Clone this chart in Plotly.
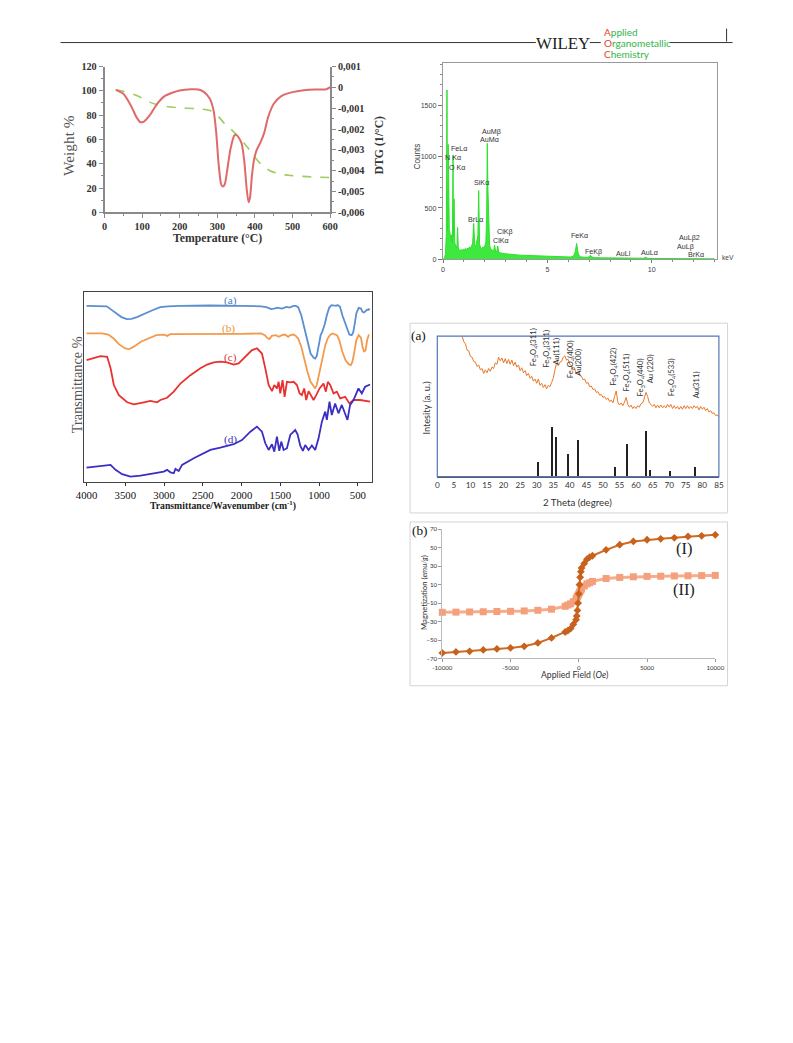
import plotly.graph_objects as go

W, H = 793, 1043
# the page photo is taken with a small border (about 9.6 px left/right, 5 px top/bottom) and then
# shrunk back to 793x1043; these helpers place items so that they land on the intended pixels
SX, OX = 0.9775, 9.35
SY, OY = 0.9907, 4.4
def px(x): return ((x - OX) / SX) / W
def py(y): return 1 - ((y - OY) / SY) / H
def fs(s): return round(s / SX, 2)

SERIF = "Liberation Serif"
SANS = "Liberation Sans"
CAL = "Lato"

# ---------------- TGA / DTG ----------------
tga_temp = [30, 50, 80, 100, 120, 150, 200, 250, 280, 300, 320, 340, 360, 380, 400, 420, 440, 460, 480, 500, 550, 600]
tga_weight = [100.8, 99.7, 96.7, 94.0, 90.7, 87.9, 86.0, 85.2, 83.8, 79.7, 72.8, 67.3, 61.0, 53.6, 45.3, 38.5, 34.3, 32.1, 30.8, 30.2, 29.1, 28.6]
dtg_temp = [30, 50, 70, 85, 95, 105, 120, 140, 160, 180, 200, 230, 250, 265, 280, 290, 297, 303, 310, 315,
            320, 328, 335, 345, 350, 358, 365, 372, 378, 383, 387, 392, 398, 405, 415, 425, 435, 450, 470, 500,
            530, 560, 590, 600]
dtg_value = [-0.00012, -0.00031, -0.00087, -0.00143, -0.00167, -0.00164, -0.00135, -0.00079, -0.00042, -0.00026,
             -0.00015, -0.00009, -0.00010, -0.00023, -0.00055, -0.00111, -0.00216, -0.00360, -0.00464, -0.00476,
             -0.00464, -0.00375, -0.00296, -0.00231, -0.00228, -0.00244, -0.00272, -0.00360, -0.00488, -0.00552,
             -0.00528, -0.00424, -0.00343, -0.00299, -0.00263, -0.00216, -0.00143, -0.00079, -0.00042, -0.00023,
             -0.00014, -0.00010, -0.00009, 0.00001]
dtg_ticks = [0.001, 0, -0.001, -0.002, -0.003, -0.004, -0.005, -0.006]
dtg_ticktext = ["0,001", "0", "-0,001", "-0,002", "-0,003", "-0,004", "-0,005", "-0,006"]

# ---------------- EDX ----------------
edx_kev = [0.00, 0.08, 0.12, 0.16, 0.19, 0.21, 0.23, 0.25, 0.27, 0.30, 0.33, 0.36, 0.39, 0.42, 0.45, 0.48, 0.50, 0.53,
           0.56, 0.60, 0.64, 0.67, 0.70, 0.73, 0.77, 0.82, 0.87, 0.92, 0.97, 1.02, 1.07, 1.12, 1.17, 1.22, 1.27, 1.32,
           1.37, 1.42, 1.47, 1.52, 1.57, 1.62, 1.67, 1.71, 1.75, 1.80, 1.85, 1.90, 1.95, 2.00, 2.05, 2.09, 2.12, 2.15,
           2.19, 2.23, 2.28, 2.33, 2.38, 2.43, 2.47, 2.52, 2.57, 2.62, 2.67, 2.75, 2.85, 2.95, 3.1, 3.3, 3.5, 3.7, 3.9,
           4.1, 4.3, 4.5, 4.7, 4.9, 5.1, 5.3, 5.5, 5.7, 5.9, 6.1, 6.25, 6.33, 6.40, 6.47, 6.55, 6.7, 6.9, 7.0, 7.06,
           7.12, 7.3, 7.6, 7.9, 8.2, 8.4, 8.49, 8.58, 8.8, 9.1, 9.4, 9.6, 9.71, 9.8, 10.1, 10.5, 11.0, 11.5, 12.0,
           12.5, 13.0]
edx_counts = [0, 15, 60, 250, 1650, 280, 420, 1120, 320, 290, 260, 230, 180, 240, 160, 1010, 220, 590,
              170, 130, 110, 140, 310, 110, 90, 85, 95, 80, 100, 90, 105, 95, 110, 100, 120, 115,
              130, 160, 350, 140, 120, 180, 230, 670, 150, 110, 105, 120, 115, 130, 160, 400, 1130, 700,
              250, 140, 100, 90, 85, 80, 140, 75, 70, 130, 65, 60, 58, 55, 50, 46, 43, 40, 38,
              36, 34, 32, 30, 28, 27, 26, 25, 24, 23, 22, 30, 70, 155, 60, 24, 20, 18, 25, 40,
              22, 16, 14, 13, 12, 12, 18, 11, 10, 9, 9, 10, 20, 9, 8, 7, 6, 5, 5,
              5, 4]
edx_labels = ["FeLα", "N Kα", "O Kα", "AuMβ", "AuMα", "SiKα", "BrLα", "ClKβ", "ClKα", "FeKα", "FeKβ",
              "AuLl", "AuLα", "AuLβ2", "AuLβ", "BrKα"]
edx_label_pos = [(449, 149), (443, 158), (447, 168), (480, 132), (478, 140), (472, 183), (466, 220), (495, 232),
                 (491, 241), (569, 236), (583, 252), (614, 254), (639, 253), (677, 238), (675, 247), (686, 255)]

# ---------------- FTIR ----------------
ftir_a_x = [4000, 3800, 3740, 3690, 3620, 3550, 3480, 3420, 3350, 3250, 3150, 3050, 2950, 2800, 2400, 2000, 1750, 1680,
            1620, 1580, 1540, 1480, 1420, 1380, 1330, 1300, 1270, 1230, 1190, 1150, 1110, 1070, 1050, 1030, 1000, 980,
            960, 930, 900, 870, 840, 810, 780, 760, 730, 700, 670, 640, 610, 580, 560, 540, 520, 490, 460, 440, 420,
            390, 360, 350]
ftir_a_y = [92.8, 92.8, 92.6, 91.1, 88.8, 86.9, 85.8, 86.0, 86.9, 88.8, 90.5, 92.1, 92.6, 92.8, 93.0, 92.8, 92.6, 92.1,
            91.1, 91.4, 91.9, 91.4, 92.3, 91.9, 92.8, 92.8, 92.1, 87.9, 80.9, 73.0, 67.7, 65.5, 65.1, 66.5, 72.1, 77.4,
            79.1, 82.7, 87.9, 91.8, 93.2, 92.8, 92.8, 93.2, 92.3, 87.9, 84.4, 80.9, 77.7, 77.4, 78.8, 83.5, 88.8, 91.8,
            91.4, 89.7, 89.3, 90.5, 91.1, 90.5]
ftir_b_x = [4000, 3800, 3720, 3650, 3580, 3500, 3450, 3380, 3300, 3200, 3100, 3000, 2960, 2920, 2800, 2500, 2000, 1750,
            1700, 1670, 1640, 1610, 1560, 1520, 1480, 1440, 1400, 1370, 1330, 1300, 1270, 1230, 1190, 1150, 1110, 1070,
            1050, 1030, 1000, 980, 950, 920, 890, 860, 830, 800, 770, 740, 700, 660, 620, 590, 570, 545, 520, 490, 460,
            440, 420, 400, 380, 360, 350]
ftir_b_y = [78.3, 78.3, 77.7, 75.6, 72.5, 70.4, 70.0, 71.6, 73.9, 75.6, 77.4, 77.7, 77.0, 77.9, 77.9, 78.1, 78.1, 78.3,
            77.4, 76.0, 75.3, 77.0, 77.4, 76.5, 77.4, 77.7, 76.5, 77.4, 77.7, 77.0, 75.6, 71.3, 64.2, 58.1, 52.8, 50.2,
            49.3, 51.1, 57.2, 61.6, 66.0, 72.1, 75.6, 77.4, 78.3, 77.7, 77.4, 74.8, 68.6, 64.2, 62.1, 61.6, 63.4, 68.6,
            74.8, 77.4, 76.0, 71.3, 68.6, 69.5, 74.8, 77.4, 77.4]
ftir_c_x = [4000, 3820, 3734, 3690, 3648, 3583, 3476, 3390, 3261, 3176, 3090, 3047, 2961, 2875, 2789, 2660, 2531, 2445,
            2359, 2274, 2188, 2102, 2038, 1952, 1866, 1802, 1737, 1694, 1651, 1608, 1578, 1544, 1522, 1501, 1471, 1445,
            1415, 1372, 1329, 1286, 1252, 1222, 1192, 1166, 1136, 1106, 1072, 1037, 994, 943, 913, 887, 857, 814, 771,
            728, 664, 608, 556, 470, 342]
ftir_c_y = [64.2, 66.3, 66.0, 59.9, 51.1, 45.8, 42.0, 40.9, 42.0, 42.7, 42.0, 43.2, 44.4, 47.6, 51.9, 56.3, 59.9, 61.9,
            63.0, 63.4, 63.0, 61.9, 62.5, 66.0, 69.5, 70.4, 67.7, 59.9, 51.1, 47.9, 51.1, 49.3, 52.8, 46.7, 53.7, 44.9,
            52.8, 52.5, 52.8, 51.1, 46.7, 45.8, 49.3, 43.2, 47.9, 45.8, 43.2, 45.8, 49.3, 51.9, 47.6, 52.8, 51.1, 46.7,
            47.6, 44.1, 44.9, 41.4, 43.2, 43.2, 42.3]
ftir_d_x = [4000, 3820, 3690, 3626, 3541, 3433, 3304, 3133, 3004, 2961, 2918, 2875, 2853, 2811, 2768, 2617, 2403, 2274,
            2102, 1995, 1887, 1802, 1737, 1694, 1651, 1608, 1578, 1544, 1514, 1488, 1458, 1415, 1372, 1308, 1278, 1243,
            1209, 1179, 1136, 1093, 1050, 1007, 964, 921, 900, 866, 836, 793, 750, 707, 664, 634, 600, 556, 492, 449,
            406, 342]
ftir_d_y = [7.6, 8.5, 9.0, 6.4, 4.1, 2.8, 3.4, 4.6, 5.5, 6.4, 5.1, 4.6, 6.9, 5.8, 9.0, 12.5, 16.9, 18.1,
            19.9, 22.1, 26.5, 29.2, 26.5, 20.4, 16.9, 19.9, 16.0, 23.9, 16.4, 21.3, 16.9, 17.8, 24.8, 27.4, 25.1, 19.2,
            16.4, 19.5, 16.9, 19.2, 16.9, 23.0, 31.8, 37.1, 32.7, 42.3, 35.3, 41.4, 36.2, 40.6, 35.3, 32.7, 40.6, 43.2,
            49.3, 46.7, 50.2, 51.4]
ftir_ticks = [4000, 3500, 3000, 2500, 2000, 1500, 1000, 500]

# ---------------- XRD ----------------
xrd_theta = [7.5, 8.0, 8.5, 9.0, 9.5, 10.0, 10.5, 11.0, 11.5, 12.0, 12.5, 13.0, 13.5, 14.0, 14.5, 15.0, 15.5, 16.0,
             16.5, 17.0, 17.5, 18.0, 18.5, 19.0, 19.5, 20.0, 20.5, 21.0, 21.5, 22.0, 22.5, 23.0, 23.5, 24.0, 24.5, 25.0,
             25.5, 26.0, 26.5, 27.0, 27.5, 28.0, 28.5, 29.0, 29.5, 30.0, 30.5, 31.0, 31.5, 32.0, 32.5, 33.0, 33.5, 34.0,
             34.5, 35.0, 35.5, 36.0, 36.5, 37.0, 37.5, 38.0, 38.5, 39.0, 39.5, 40.0, 40.5, 41.0, 41.5, 42.0, 42.5, 43.0,
             43.5, 44.0, 44.5, 45.0, 45.5, 46.0, 46.5, 47.0, 47.5, 48.0, 48.5, 49.0, 49.5, 50.0, 50.5, 51.0, 51.5, 52.0,
             52.5, 53.0, 53.5, 54.0, 54.5, 55.0, 55.5, 56.0, 56.5, 57.0, 57.5, 58.0, 58.5, 59.0, 59.5, 60.0, 60.5, 61.0,
             61.5, 62.0, 62.5, 63.0, 63.5, 64.0, 64.5, 65.0, 65.5, 66.0, 66.5, 67.0, 67.5, 68.0, 68.5, 69.0, 69.5, 70.0,
             70.5, 71.0, 71.5, 72.0, 72.5, 73.0, 73.5, 74.0, 74.5, 75.0, 75.5, 76.0, 76.5, 77.0, 77.5, 78.0, 78.5, 79.0,
             79.5, 80.0, 80.5, 81.0, 81.5, 82.0, 82.5, 83.0, 83.5, 84.0, 84.5, 85.0]
xrd_intensity = [100, 96, 94.5, 90, 89.5, 85.5, 85, 82, 81.5, 78.5, 79.5, 76, 77, 73.5, 76, 74, 77, 75,
                 78, 77, 81, 80, 85, 82.5, 84.5, 81, 84, 80.5, 83.5, 80, 83, 79, 81.5, 78, 79.5, 75.5,
                 77.5, 74, 75.5, 72, 73.5, 70, 71.5, 68, 69.5, 66.5, 69.5, 65, 66.5, 63.5, 65.5, 62.5, 65, 64,
                 67, 70, 76, 81, 79, 81.5, 82, 85, 86, 83, 83.5, 80, 79, 76, 76.5, 73.5, 74.5, 72,
                 71.5, 69, 69.5, 66.5, 67, 64, 64.5, 62, 62.5, 60, 60.5, 58, 58.5, 56.5, 57, 55, 56, 53.5,
                 54.5, 52.5, 57, 61, 53, 51, 52.5, 50.5, 53, 56.5, 51.5, 49.5, 51, 48.5, 50, 48.5, 50.5, 49.5,
                 52, 52.5, 56, 60, 57, 52.5, 51.5, 50, 51.5, 49, 51, 49, 51, 49, 50.5, 49, 51.5, 49.5,
                 51.5, 48.5, 50.5, 48.5, 50, 48, 50, 48, 50.5, 48.5, 50.5, 48.5, 50, 48.5, 50.5, 49, 50, 47.5,
                 50, 48, 49.5, 47, 48.5, 46, 47, 45, 45.5, 43.5, 44, 42.5]
ref_theta = [30.4, 34.7, 35.8, 39.5, 42.7, 53.75, 57.3, 63.0, 64.3, 70.4, 78.0]
ref_height = [10.0, 35.0, 28.4, 15.9, 26.0, 6.6, 23.2, 32.5, 4.3, 3.6, 7.1]
peak_labels = ["Fe<sub>3</sub>O<sub>4</sub>(311)", "Fe<sub>3</sub>O<sub>4</sub>(311)", "Au(111)",
               "Fe<sub>3</sub>O<sub>4</sub>(400)", "Au(200)", "Fe<sub>3</sub>O<sub>4</sub>(422)",
               "Fe<sub>3</sub>O<sub>4</sub>(511)", "Fe<sub>3</sub>O<sub>4</sub>(440)", "Au (220)",
               "Fe<sub>3</sub>O<sub>4</sub>(533)", "Au(311)"]
peak_label_theta = [28.9, 33.0, 35.6, 40.1, 42.5, 53.2, 57.1, 61.3, 64.1, 70.6, 78.0]
peak_label_base = [77.3, 75.8, 78.0, 68.7, 70.1, 63.0, 59.5, 56.0, 65.2, 56.0, 54.5]

# ---------------- Magnetization ----------------
mag_field = [-10000, -9000, -8000, -7000, -6000, -5000, -4000, -3000, -2000, -1000, -800, -600, -400, -200, -150,
             -100, -50, 0, 50, 100, 150, 200, 400, 600, 800, 1000, 2000, 3000, 4000, 5000, 6000, 7000, 8000, 9000,
             10000]
mag_I = [-64, -62.9, -62.2, -60.7, -59.6, -58.6, -56.8, -53.2, -47.7, -41.3, -39.8, -37.6, -33, -28, -24,
         -18, -10, 0, 10, 18, 24, 28, 33, 37.6, 39.8, 41.3, 47.7, 53.2, 56.8, 58.6, 59.6, 60.7, 62.2, 62.9, 64]
mag_II = [-20, -19.8, -19.6, -19.4, -19.1, -18.9, -18.5, -17.8, -16.6, -13.5, -12.1, -10.8, -8.5, -5.5, -4.3,
          -3, -1.5, 0, 1.5, 3, 4.3, 5.5, 8.5, 10.8, 12.1, 13.5, 16.6, 17.8, 18.5, 18.9, 19.1, 19.4, 19.6, 19.8, 20]
mag_xticks = [-10000, -5000, 0, 5000, 10000]
mag_xticktext = ["-10000", "-5000", "0", "5000", "10000"]
mag_yticks = [-70, -50, -30, -10, 10, 30, 50, 70]

fig = go.Figure()

# TGA traces
fig.add_trace(go.Scatter(x=tga_temp, y=tga_weight, mode="lines", line=dict(color="#9fcc5a", width=1.6, dash="dash", shape="spline"),
                         xaxis="x", yaxis="y"))
fig.add_trace(go.Scatter(x=dtg_temp, y=dtg_value, mode="lines", line=dict(color="#e06a6a", width=2, shape="spline", smoothing=0.6),
                         xaxis="x", yaxis="y2"))
# EDX
fig.add_trace(go.Scatter(x=edx_kev, y=edx_counts, mode="lines", fill="tozeroy", fillcolor="#3ee83e",
                         line=dict(color="#2ee02e", width=1), xaxis="x3", yaxis="y3"))
# FTIR
for xs, ys, col in [(ftir_a_x, ftir_a_y, "#5b8fd0"), (ftir_b_x, ftir_b_y, "#f49a4c"),
                    (ftir_c_x, ftir_c_y, "#e83232"), (ftir_d_x, ftir_d_y, "#3a2fc2")]:
    fig.add_trace(go.Scatter(x=xs, y=ys, mode="lines", line=dict(color=col, width=1.8),
                             xaxis="x4", yaxis="y4"))
# XRD
fig.add_trace(go.Scatter(x=xrd_theta, y=xrd_intensity, mode="lines", line=dict(color="#e8782a", width=1),
                         xaxis="x5", yaxis="y5"))
fig.add_trace(go.Bar(x=ref_theta, y=ref_height, width=0.3, marker=dict(color="#222222", line=dict(width=0)),
                     xaxis="x5", yaxis="y5"))
# Magnetization
fig.add_trace(go.Scatter(x=mag_field, y=mag_II, mode="lines+markers", cliponaxis=False,
                         line=dict(color="#f5ad8c", width=3),
                         marker=dict(symbol="square", size=7, color="#f4a07c"),
                         xaxis="x6", yaxis="y6"))
fig.add_trace(go.Scatter(x=mag_field, y=mag_I, mode="lines+markers", cliponaxis=False,
                         line=dict(color="#cf6a24", width=2),
                         marker=dict(symbol="diamond", size=6, color="#c8611c"),
                         xaxis="x6", yaxis="y6"))

tga_font = dict(family=SERIF, size=fs(10), color="#333", weight="bold")
ax_line = dict(showline=True, linecolor="#8a8a8a", linewidth=1.5, showgrid=False, zeroline=False)

layout = dict(
    width=W, height=H, autosize=False, margin=dict(l=0, r=0, t=0, b=0), paper_bgcolor="white",
    plot_bgcolor="rgba(0,0,0,0)", showlegend=False, bargap=0,
    xaxis=dict(domain=[px(104), px(330)], anchor="y", range=[0, 600], tickvals=[0, 100, 200, 300, 400, 500, 600],
               ticks="outside", ticklen=4, tickcolor="#8a8a8a", tickfont=tga_font,
               minor=dict(ticks="outside", ticklen=2, dtick=50, tickcolor="#8a8a8a"), **ax_line),
    yaxis=dict(domain=[py(212), py(66)], anchor="x", range=[0, 120], tickvals=[0, 20, 40, 60, 80, 100, 120],
               ticks="outside", ticklen=4, tickcolor="#8a8a8a", tickfont=tga_font,
               minor=dict(ticks="outside", ticklen=2, dtick=10, tickcolor="#8a8a8a"), **ax_line),
    yaxis2=dict(overlaying="y", side="right", anchor="x", range=[-0.006, 0.001], tickvals=dtg_ticks,
                ticktext=dtg_ticktext, ticks="outside", ticklen=4, tickcolor="#8a8a8a", tickfont=tga_font,
                minor=dict(ticks="outside", ticklen=2, dtick=0.0005, tickcolor="#8a8a8a"), **ax_line),
    xaxis3=dict(domain=[px(443), px(717)], anchor="y3", range=[0, 13.1], tickvals=[0, 5, 10],
                ticks="outside", ticklen=3, tickcolor="#777", tickfont=dict(family=SANS, size=fs(7), color="#444"),
                minor=dict(ticks="outside", ticklen=2, dtick=1, tickcolor="#888"),
                showline=True, linecolor="#9a9a9a", linewidth=1, mirror=True, showgrid=False, zeroline=False),
    yaxis3=dict(domain=[py(259), py(62)], anchor="x3", range=[0, 1918], tickvals=[0, 500, 1000, 1500],
                ticks="outside", ticklen=4, tickcolor="#777", tickfont=dict(family=SANS, size=fs(7), color="#444"),
                minor=dict(ticks="outside", ticklen=2, dtick=100, tickcolor="#888"),
                showline=True, linecolor="#9a9a9a", linewidth=1, mirror=True, showgrid=False, zeroline=False),
    xaxis4=dict(domain=[px(83.3), px(371.7)], anchor="y4", range=[4035, 320], tickvals=ftir_ticks,
                ticks="outside", ticklen=3, tickcolor="#333", tickfont=dict(family=SERIF, size=fs(10.5), color="#111"),
                showline=True, linecolor="#444", linewidth=1.2, mirror=True, showgrid=False, zeroline=False),
    yaxis4=dict(domain=[py(482), py(292)], anchor="x4", range=[0, 100], showticklabels=False, ticks="",
                showline=True, linecolor="#444", linewidth=1.2, mirror=True, showgrid=False, zeroline=False),
    xaxis5=dict(domain=[px(437.3), px(719.3)], anchor="y5", range=[0, 85], dtick=5, ticks="",
                tickfont=dict(family=CAL, size=fs(8), color="#333"),
                showline=True, linecolor="#555", linewidth=1, showgrid=False, zeroline=False),
    yaxis5=dict(domain=[py(476.7), py(336)], anchor="x5", range=[0, 100], showticklabels=False, ticks="",
                showline=False, showgrid=False, zeroline=False),
    xaxis6=dict(domain=[px(442.3), px(715.7)], anchor="y6", range=[-10000, 10000],
                tickvals=mag_xticks, ticktext=mag_xticktext, ticks="outside", ticklen=3, tickcolor="#999",
                tickfont=dict(family=CAL, size=fs(6), color="#333"),
                showline=True, linecolor="#bbb", linewidth=1, showgrid=False, zeroline=False),
    yaxis6=dict(domain=[py(658.7), py(529.3)], anchor="x6", range=[-70, 70],
                tickvals=mag_yticks, ticks="outside", ticklen=3, tickcolor="#999",
                tickfont=dict(family=CAL, size=fs(6), color="#333"),
                showline=True, linecolor="#bbb", linewidth=1, showgrid=False, zeroline=False),
)

def ann(text, x, y, size, color="#000", family=SERIF, xanchor="center", yanchor="middle", angle=0, weight="normal"):
    return dict(text=text, x=px(x), y=py(y), xref="paper", yref="paper", showarrow=False,
                font=dict(size=fs(size), color=color, family=family, weight=weight),
                xanchor=xanchor, yanchor=yanchor, textangle=angle)

RED, GREEN = "#e8412c", "#35b34a"
def journal(first, rest):
    return f'<span style="color:{RED}">{first}</span><span style="color:{GREEN}">{rest}</span>'

anns = []
# header
anns.append(ann("WILEY", 563, 43, 16.5, "#222", SERIF))
anns.append(ann(journal("A", "pplied"), 602, 31, 9.8, GREEN, CAL, xanchor="left"))
anns.append(ann(journal("O", "rganometallic"), 602, 42, 9.8, GREEN, CAL, xanchor="left"))
anns.append(ann(journal("C", "hemistry"), 602, 53, 9.8, GREEN, CAL, xanchor="left"))
# TGA titles
anns.append(ann("Weight %", 68, 145, 15, "#555", SERIF, angle=-90))
anns.append(ann("DTG (1/°C)", 379, 145, 11.5, "#333", SERIF, angle=-90, weight="bold"))
anns.append(ann("Temperature (°C)", 217, 238, 11.5, "#333", SERIF, weight="bold"))
# EDX
anns.append(ann("Counts", 417, 156, 8, "#444", SANS, angle=-90))
for lab, (lx, ly) in zip(edx_labels, edx_label_pos):
    anns.append(ann(lab, lx, ly, 7, "#333", SANS, xanchor="left"))
anns.append(ann("keV", 720, 257, 6.5, "#444", SANS, xanchor="left"))
# FTIR
for lab, lx, ly, col in [("(a)", 230, 300, "#4a7fc4"), ("(b)", 228, 328, "#f09040"),
                         ("(c)", 230, 357, "#e03030"), ("(d)", 230, 439, "#3a30c0")]:
    anns.append(ann(lab, lx, ly, 11, col, SERIF))
anns.append(ann("Transmittance %", 76.5, 385, 14, "#555", SERIF, angle=-90))
anns.append(ann("Transmittance/Wavenumber (cm<sup>-1</sup>)", 223, 506, 9.5, "#222", SERIF, weight="bold"))
# XRD
anns.append(ann("(a)", 418, 335, 13, "#111", SERIF))
anns.append(ann("Intesity (a. u.)", 426.5, 408, 9, "#333", CAL, angle=-90))
anns.append(ann("2 Theta (degree)", 578, 502, 9.5, "#333", CAL))
for lab, tx, ty in zip(peak_labels, peak_label_theta, peak_label_base):
    anns.append(dict(text=lab, x=tx, y=ty, xref="x5", yref="y5", showarrow=False, textangle=-90,
                     xanchor="center", yanchor="bottom", font=dict(family=CAL, size=fs(7.5), color="#333")))
# Magnetization
anns.append(ann("(b)", 420, 531, 13, "#111", SERIF))
anns.append(ann("Magnetization (<i>emu/g</i>)", 424, 593, 7.5, "#333", CAL, angle=-90))
anns.append(ann("Applied Field (<i>Oe</i>)", 575, 675, 8.5, "#333", CAL))
anns.append(ann("(I)", 684, 549, 16, "#222", SERIF))
anns.append(ann("(II)", 684, 590, 16, "#222", SERIF))
layout["annotations"] = anns

def line(x0, y0, x1, y1, color="#333", width=1):
    return dict(type="line", xref="paper", yref="paper", x0=px(x0), y0=py(y0), x1=px(x1), y1=py(y1),
                line=dict(color=color, width=width))

def rect(x0, y0, x1, y1, color, width=1):
    return dict(type="rect", xref="paper", yref="paper", x0=px(x0), y0=py(y0), x1=px(x1), y1=py(y1),
                line=dict(color=color, width=width), fillcolor="rgba(0,0,0,0)", layer="above")

layout["shapes"] = [
    line(60, 42, 536, 42), line(590, 42, 601, 42), line(670, 42, 733, 42), line(727, 28, 727, 41),
    rect(410, 323, 728, 513, "#d4d4d4"),
    rect(437.3, 336, 719.3, 476.7, "#5577b8", 1.2),
    rect(410, 522, 728, 686, "#d4d4d4"),
]

fig.update_layout(**layout)
fig.write_html(
    "out.html",
    config={"displayModeBar": False, "responsive": False},
    post_script=("document.documentElement.style.margin='0';document.documentElement.style.overflow='hidden';"
                 "document.body.style.margin='0';document.body.style.padding='0';"
                 "document.body.style.overflow='hidden';"),
)
